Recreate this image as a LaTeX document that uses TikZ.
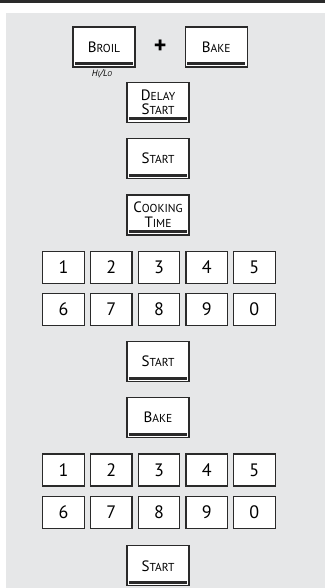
\documentclass[tikz,border=0pt]{standalone}
\usepackage{fontspec}
\setmainfont{PT Sans}
\usetikzlibrary{positioning}
\definecolor{panelgray}{HTML}{E6E7E8}
\definecolor{keyedge}{HTML}{2A2A2A}
\newcommand{\capword}[2]{{\fontsize{15}{14.5}\selectfont #1}{\fontsize{11.5}{14.5}\selectfont #2}}
\newcommand{\tinycap}[2]{{\fontsize{9}{10}\selectfont #1}{\fontsize{7}{10}\selectfont #2}}

\begin{document}
\begin{tikzpicture}[
    x=1pt, y=-1pt,
    node distance=15pt and 5pt,
    keynode/.style={draw=keyedge, fill=white, line width=1.2pt, minimum width=62pt, minimum height=40pt,
                    inner sep=0pt, align=center, font=\fontsize{15}{14.5}\selectfont,
                    path picture={\fill[keyedge] ([shift={(2pt,2pt)}]path picture bounding box.south west)
                                  rectangle ([shift={(-2pt,5pt)}]path picture bounding box.south east);}},
    numnode/.style={draw=keyedge, fill=white, line width=1.2pt, minimum width=41.5pt, minimum height=32pt,
                    inner sep=0pt, font=\fontsize{18}{18}\selectfont}
]
    \useasboundingbox (0,0) rectangle (325,588);
    \fill[keyedge] (0,0) rectangle (325,3.5);
    \fill[panelgray] (6,13) rectangle (325,588);

    \node[keynode] (broil) at (104,47) {\capword{B}{ROIL}};
    \node[keynode, right=49pt of broil] (bake) {\capword{B}{AKE}};
    \path (broil) -- node[font=\bfseries\fontsize{24}{24}\selectfont] (plus) {+} (bake);
    \node[below=1pt of broil, xshift=-2pt, inner sep=1pt, font=\itshape] (hilo) {\tinycap{H}{I}/\tinycap{L}{O}};

    \node[keynode] (delay) at (158,102.5) {\capword{D}{ELAY}\\\capword{S}{TART}};
    \node[keynode, below=of delay] (start) {\capword{S}{TART}};
    \node[keynode, below=of start] (cook) {\capword{C}{OOKING}\\\capword{T}{IME}};

    \node[numnode, below=of cook, xshift=1pt] (a3) {3};
    \node[numnode, left=of a3] (a2) {2};
    \node[numnode, left=of a2] (a1) {1};
    \node[numnode, right=of a3] (a4) {4};
    \node[numnode, right=of a4] (a5) {5};
    \node[numnode, below=9pt of a1] (a6) {6};
    \node[numnode, below=9pt of a2] (a7) {7};
    \node[numnode, below=9pt of a3] (a8) {8};
    \node[numnode, below=9pt of a4] (a9) {9};
    \node[numnode, below=9pt of a5] (a0) {0};

    \node[keynode, below=of a8, xshift=-1pt] (startb) {\capword{S}{TART}};
    \node[keynode, below=of startb] (bakeb) {\capword{B}{AKE}};

    \node[numnode, below=of bakeb, xshift=1pt] (b3) {3};
    \node[numnode, left=of b3] (b2) {2};
    \node[numnode, left=of b2] (b1) {1};
    \node[numnode, right=of b3] (b4) {4};
    \node[numnode, right=of b4] (b5) {5};
    \node[numnode, below=9.5pt of b1] (b6) {6};
    \node[numnode, below=9.5pt of b2] (b7) {7};
    \node[numnode, below=9.5pt of b3] (b8) {8};
    \node[numnode, below=9.5pt of b4] (b9) {9};
    \node[numnode, below=9.5pt of b5] (b0) {0};

    \node[keynode, below=16pt of b8, xshift=-1pt] (startc) {\capword{S}{TART}};
\end{tikzpicture}
\end{document}
